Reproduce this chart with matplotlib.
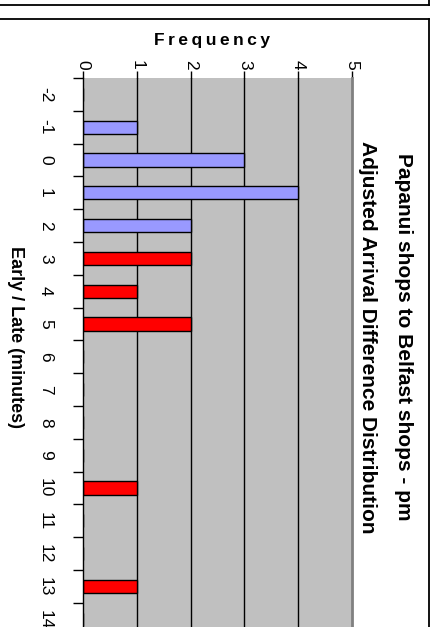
import matplotlib.pyplot as plt
from matplotlib.lines import Line2D

plt.rcParams['font.family'] = ['Liberation Sans', 'DejaVu Sans']

# arrival difference in minutes (early < 0 < late) and how often it happened
minutes = list(range(-2, 15))
frequency = [0, 1, 3, 4, 2, 2, 1, 2, 0, 0, 0, 0, 1, 0, 0, 1, 0]
freq_ticks = [0, 1, 2, 3, 4, 5]
early_col = '#9999FF'
late_col = '#FF0000'
colours = [early_col if m <= 2 else late_col for m in minutes]

title1 = 'Papanui shops to Belfast shops - pm'
title2 = 'Adjusted Arrival Difference Distribution'

W, H = 439, 627
fig = plt.figure(figsize=(W / 100, H / 100), dpi=100)

# plot area in pixels: x 83..352, top 78, one category = 32.8 px
left, right, top, step = 83, 352, 78, 32.8
bottom = top + step * len(minutes)
ax = fig.add_axes([left / W, 1 - bottom / H, (right - left) / W, (bottom - top) / H])
ax.set_facecolor('#C0C0C0')

ax.barh(minutes, frequency, height=0.4, color=colours, edgecolor='black',
        linewidth=1.0, zorder=3)

ax.set_xlim(0, 5)
ax.set_ylim(14.5, -2.5)

# vertical gridlines
for v in freq_ticks[1:-1]:
    ax.axvline(v, color='black', linewidth=1.0, zorder=2)

for s in ['top', 'bottom']:
    ax.spines[s].set_visible(False)
ax.spines['left'].set_color('black')
ax.spines['left'].set_linewidth(1.0)
ax.spines['right'].set_color('#808080')
ax.spines['right'].set_linewidth(2.0)
ax.spines['left'].set_zorder(4)

# frequency axis along the top
ax.xaxis.tick_top()
ax.set_xticks(freq_ticks)
ax.set_xticklabels([str(t) for t in freq_ticks], rotation=-90, fontsize=12.5)
ax.tick_params(axis='x', which='major', top=True, bottom=False, length=5,
               width=1.0, color='black', pad=1)

# minutes axis on the left: labels at centres, ticks on boundaries
ax.set_yticks(minutes)
ax.set_yticklabels([str(m) for m in minutes], rotation=-90, fontsize=12.5,
                   va='center', ha='center')
ax.tick_params(axis='y', which='major', length=0, pad=27)
ax.set_yticks([m - 0.5 for m in minutes] + [minutes[-1] + 0.5], minor=True)
ax.tick_params(axis='y', which='minor', length=7, width=1.0, color='black')

fig.text(212 / W, 1 - 40 / H, 'F\u2009r\u2009e\u2009q\u2009u\u2009e\u2009n\u2009c\u2009y',
         fontsize=12.5, fontweight='bold', ha='center', va='center')
fig.text(15 / W, 1 - 337 / H, 'Early / Late (minutes)', fontsize=13,
         fontweight='bold', rotation=-90, ha='center', va='center')
fig.text(404 / W, 1 - 337 / H, title1, fontsize=15, fontweight='bold',
         rotation=-90, ha='center', va='center')
fig.text(367 / W, 1 - 337 / H, title2, fontsize=15, fontweight='bold',
         rotation=-90, ha='center', va='center')

# chart frames (end of the frame above, and this chart's frame)
fr = 429 / W
fig.add_artist(Line2D([0, fr], [1 - 5 / H, 1 - 5 / H], color='black', lw=1.3))
fig.add_artist(Line2D([fr, fr], [1, 1 - 5 / H], color='black', lw=1.3))
fig.add_artist(Line2D([0, fr], [1 - 19 / H, 1 - 19 / H], color='black', lw=1.3))
fig.add_artist(Line2D([fr, fr], [1 - 19 / H, 0], color='black', lw=1.3))

fig.savefig('out.png', dpi=100)
